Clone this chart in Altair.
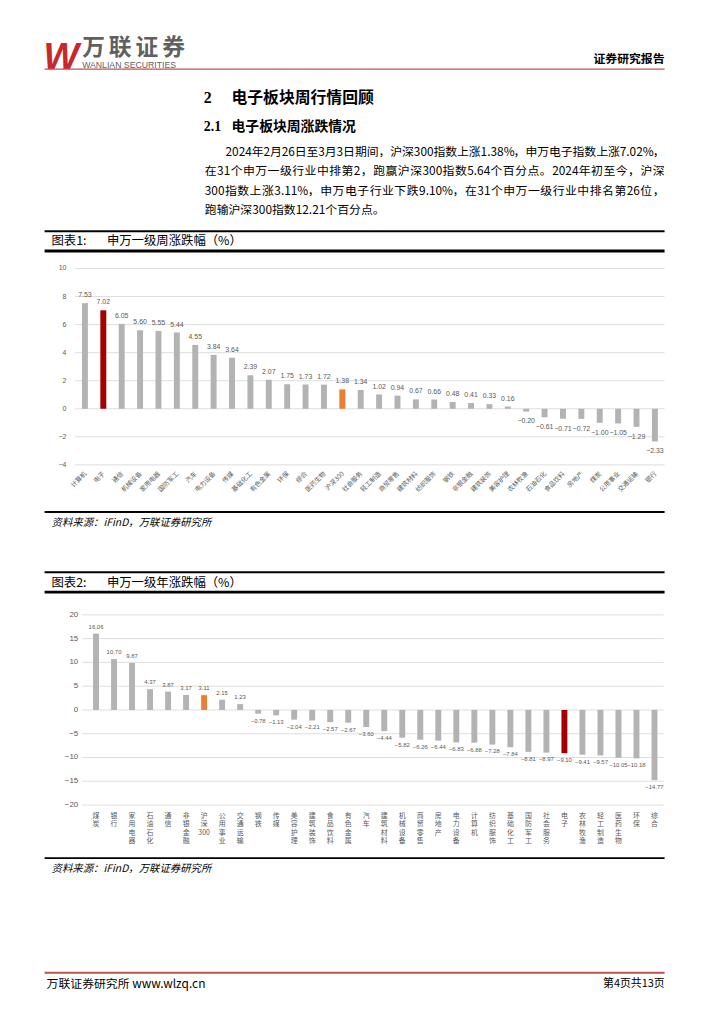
import altair as alt
import pandas as pd

# ---------------- data ----------------
week_cats = ["计算机", "电子", "通信", "机械设备", "家用电器", "国防军工", "汽车", "电力设备",
             "传媒", "基础化工", "有色金属", "环保", "综合", "医药生物", "沪深300", "社会服务",
             "轻工制造", "商贸零售", "建筑材料", "纺织服饰", "钢铁", "非银金融", "建筑装饰",
             "美容护理", "农林牧渔", "石油石化", "食品饮料", "房地产", "煤炭", "公用事业",
             "交通运输", "银行"]
week_vals = [7.53, 7.02, 6.05, 5.60, 5.55, 5.44, 4.55, 3.84, 3.64, 2.39, 2.07, 1.75, 1.73,
             1.72, 1.38, 1.34, 1.02, 0.94, 0.67, 0.66, 0.48, 0.41, 0.33, 0.16, -0.20, -0.61,
             -0.71, -0.72, -1.00, -1.05, -1.29, -2.33]
week_ticks = [-4, -2, 0, 2, 4, 6, 8, 10]

year_cats = ["煤炭", "银行", "家用电器", "石油石化", "通信", "非银金融", "沪深300", "公用事业",
             "交通运输", "钢铁", "传媒", "美容护理", "建筑装饰", "食品饮料", "有色金属", "汽车",
             "建筑材料", "机械设备", "商贸零售", "房地产", "电力设备", "计算机", "纺织服饰",
             "基础化工", "国防军工", "社会服务", "电子", "农林牧渔", "轻工制造", "医药生物",
             "环保", "综合"]
year_vals = [16.06, 10.70, 9.87, 4.37, 3.87, 3.17, 3.11, 2.15, 1.23, -0.78, -1.13, -2.04,
             -2.21, -2.57, -2.67, -3.60, -4.44, -5.82, -6.26, -6.44, -6.83, -6.88, -7.28,
             -7.84, -8.81, -8.97, -9.10, -9.41, -9.57, -10.05, -10.18, -14.77]
year_ticks = [-20, -15, -10, -5, 0, 5, 10, 15, 20]

HIGHLIGHT = "电子"
INDEX = "沪深300"

logo_chars = ["万", "联", "证", "券"]

para_lines = [
    "2024年2月26日至3月3日期间，沪深300指数上涨1.38%，申万电子指数上涨7.02%，",
    "在31个申万一级行业中排第2，跑赢沪深300指数5.64个百分点。2024年初至今，沪深",
    "300指数上涨3.11%，申万电子行业下跌9.10%，在31个申万一级行业中排名第26位，",
    "跑输沪深300指数12.21个百分点。",
]

# ---------------- styling ----------------
CJK = "Noto Sans CJK SC"
NUM = "Liberation Sans"
GRAY_BAR = "#b3b3b3"
RED_BAR = "#a50000"
ORANGE_BAR = "#ed7d31"
LABEL = "#595959"
GRID = "#dedede"
O = 8  # page margin


def vertical(s):
    parts, buf = [], ""
    for ch in s:
        if ch.isascii():
            buf += ch
        else:
            if buf:
                parts.append(buf)
                buf = ""
            parts.append(ch)
    if buf:
        parts.append(buf)
    return "\n".join(parts)


def kind(c):
    return "hl" if c == HIGHLIGHT else ("idx" if c == INDEX else "n")


df1 = pd.DataFrame({"c": week_cats, "v": week_vals})
df1["k"] = df1["c"].map(kind)
df2 = pd.DataFrame({"c": year_cats, "v": year_vals})
df2["k"] = df2["c"].map(kind)
df2["lab"] = df2["c"].map(vertical)

one = pd.DataFrame({"a": [0]})


def txt(s, x, y, size, align="left", baseline="middle", font=CJK, **kw):
    return alt.Chart(one).mark_text(text=s, fontSize=size, align=align, baseline=baseline,
                                    font=font, **kw).encode(x=alt.value(x - O), y=alt.value(y - O))


def hrule(x1, x2, y, color, w):
    return alt.Chart(one).mark_rule(color=color, strokeWidth=w).encode(
        x=alt.value(x1 - O), x2=alt.value(x2 - O), y=alt.value(y - O))


# ---- justified paragraph lines ----
def char_w(ch):
    if not ch.isascii():
        return 1.0
    if ch.isdigit():
        return 0.552
    if ch == ".":
        return 0.27
    if ch == "%":
        return 0.86
    return 0.55


def tokens(s):
    out, buf = [], ""
    for ch in s:
        if ch.isascii():
            buf += ch
        else:
            if buf:
                out.append(buf)
                buf = ""
            out.append(ch)
    if buf:
        out.append(buf)
    return out


def justified(s, x0, x1, y, fs):
    toks = tokens(s)
    widths = [sum(char_w(c) for c in t) * fs for t in toks]
    gap = (x1 - x0 - sum(widths)) / (len(toks) - 1)
    xs, cur = [], x0
    for w in widths:
        xs.append(cur - O)
        cur += w + gap
    d = pd.DataFrame({"tok": toks, "px": xs})
    return alt.Chart(d).mark_text(align="left", baseline="middle", fontSize=fs, font=CJK,
                                  color="#000000").encode(
        x=alt.X("px:Q", scale=None), y=alt.value(y - O), text="tok:N")


color_enc = alt.Color("k:N", scale=alt.Scale(domain=["n", "hl", "idx"],
                                            range=[GRAY_BAR, RED_BAR, ORANGE_BAR]), legend=None)


def bar_chart(df, ticks, xr, yr, dom, grid_x, ylab_x, ylab_size, val_size, pos_dy, neg_dy,
              xlabels):
    xs = alt.Scale(domain=list(df["c"]), range=[xr[0] - O, xr[1] - O], paddingInner=0,
                   paddingOuter=0)
    ys = alt.Scale(domain=dom, range=[yr[0] - O, yr[1] - O], nice=False)
    tdf = pd.DataFrame({"t": ticks})
    grid = alt.Chart(tdf).mark_rule(color=GRID, strokeWidth=1).encode(
        y=alt.Y("t:Q", scale=ys, axis=None), x=alt.value(grid_x[0] - O), x2=alt.value(grid_x[1] - O))
    ylab = alt.Chart(tdf).mark_text(align="right", baseline="middle", fontSize=ylab_size,
                                    color=LABEL, font=NUM).encode(
        y=alt.Y("t:Q", scale=ys, axis=None), x=alt.value(ylab_x - O), text=alt.Text("t:Q", format="d"))
    base = alt.Chart(df)
    bars = base.mark_bar(width=6).encode(
        x=alt.X("c:N", scale=xs, axis=None, sort=None),
        y=alt.Y("v:Q", scale=ys, axis=None), y2=alt.datum(0), color=color_enc)
    pos = base.transform_filter("datum.v >= 0").mark_text(
        baseline="bottom", dy=pos_dy, fontSize=val_size, color=LABEL, font=NUM).encode(
        x=alt.X("c:N", scale=xs, axis=None, sort=None), y=alt.Y("v:Q", scale=ys, axis=None),
        text=alt.Text("v:Q", format=".2f"))
    neg = base.transform_filter("datum.v < 0").mark_text(
        baseline="top", dy=neg_dy, fontSize=val_size, color=LABEL, font=NUM).encode(
        x=alt.X("c:N", scale=xs, axis=None, sort=None), y=alt.Y("v:Q", scale=ys, axis=None),
        text=alt.Text("v:Q", format=".2f"))
    xl = xlabels(base, xs)
    return alt.layer(grid, ylab, bars, pos, neg, xl)


def xlab1(base, xs):
    return base.mark_text(angle=315, align="right", baseline="middle", fontSize=6.5,
                          color=LABEL, font=CJK, dx=1).encode(
        x=alt.X("c:N", scale=xs, axis=None, sort=None), y=alt.value(473 - O), text="c:N")


def xlab2(base, xs):
    return base.mark_text(align="center", baseline="top", fontSize=7, lineBreak="\n",
                          lineHeight=8.6, color=LABEL, font=CJK).encode(
        x=alt.X("c:N", scale=xs, axis=None, sort=None), y=alt.value(815 - O), text="lab:N")


chart1 = bar_chart(df1, week_ticks, (76.5, 671.5), (464.3, 265.7), [-4, 10], (76, 672), 67, 7,
                   7, -5, 6, xlab1)
chart2 = bar_chart(df2, year_ticks, (87.9, 670.9), (808.3, 616.0), [-20, 20], (83, 671), 79, 8,
                   6, -4, 4, xlab2)

decos = [
    # header
    txt("W", 44, 64, 38, baseline="alphabetic", font=NUM, fontWeight="bold", fontStyle="italic",
        color="#c8282d"),
]
decos += [txt(ch, 83 + 27 * i, 50, 23, baseline="alphabetic", fontWeight="bold",
              color="#606060") for i, ch in enumerate(logo_chars)]
decos += [
    txt("WANLIAN SECURITIES", 83, 63, 8.8, baseline="alphabetic", font=NUM, color="#606060"),
    txt("证券研究报告", 672, 54, 12, align="right", fontWeight="bold", color="#000000"),
    hrule(45, 672, 64, "#c0504d", 1.2),
    # headings
    txt("2", 206, 93, 16, font="Liberation Serif", fontWeight="bold"),
    txt("电子板块周行情回顾", 234, 93, 16, fontWeight="bold"),
    txt("2.1", 206, 123, 14, font="Liberation Serif", fontWeight="bold"),
    txt("电子板块周涨跌情况", 234, 123, 14, fontWeight="bold"),
    justified(para_lines[0], 228, 672, 148, 12),
    justified(para_lines[1], 207, 672, 167, 12),
    justified(para_lines[2], 207, 672, 187, 12),
    txt(para_lines[3], 207, 207, 12),
    # figure 1 frame
    hrule(45, 672, 228, "#000000", 2),
    txt("图表1:", 52, 238, 12.5),
    txt("申万一级周涨跌幅（%）", 108, 238, 12.5),
    hrule(45, 672, 248, "#000000", 3),
    hrule(45, 672, 512, "#000000", 2),
    txt("资料来源：iFinD，万联证券研究所", 52, 523, 10.5, fontStyle="italic"),
    # figure 2 frame
    hrule(45, 672, 573, "#000000", 2),
    txt("图表2:", 52, 584, 12.5),
    txt("申万一级年涨跌幅（%）", 108, 584, 12.5),
    hrule(45, 672, 593, "#000000", 3),
    hrule(45, 672, 862, "#000000", 2),
    txt("资料来源：iFinD，万联证券研究所", 52, 873, 10.5, fontStyle="italic"),
    # footer
    hrule(45, 672, 978, "#c0504d", 2),
    txt("万联证券研究所 www.wlzq.cn", 47, 989, 12),
    txt("第4页共13页", 672, 989, 11, align="right"),
]

chart = alt.layer(*decos, chart1, chart2).resolve_scale(
    x="independent", y="independent"
).properties(
    width=716, height=1016, padding=0, autosize=alt.AutoSizeParams(type="none"),
    background="white"
).configure_view(stroke=None)

chart.save("out.html", embed_options={"renderer": "svg", "actions": False})
